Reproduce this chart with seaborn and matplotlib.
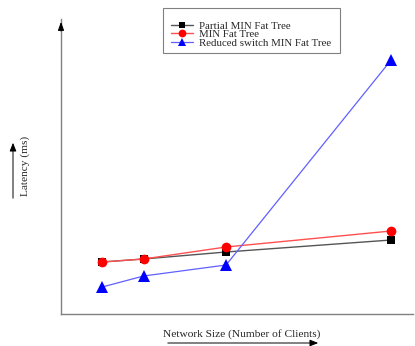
import matplotlib
matplotlib.use("Agg")
import matplotlib.pyplot as plt
from matplotlib.patches import FancyArrowPatch, Rectangle
import seaborn as sns
import pandas as pd

# Network sizes (relative number of clients) and latency per topology
clients = [1, 2, 4, 8]
partial_min = [5.2, 5.5, 6.2, 7.4]
min_fat = [5.2, 5.5, 6.7, 8.3]
reduced_min = [2.7, 3.8, 4.9, 25.4]

series_names = ["Partial MIN Fat Tree", "MIN Fat Tree", "Reduced switch MIN Fat Tree"]
series_values = [partial_min, min_fat, reduced_min]

sns.set_style("white")
plt.rcParams["font.family"] = ["Liberation Serif", "DejaVu Serif"]

W, H = 415, 346
fig = plt.figure(figsize=(W / 100, H / 100), dpi=100)
ax = fig.add_axes([61 / W, (H - 314) / H, (413 - 61) / W, (314 - 19) / H])

styles = [
    dict(line="#555555", mk="black", marker="s", ms=6, lw=1.0),
    dict(line="#ff5050", mk="red", marker="o", ms=7, lw=1.0),
    dict(line="#6060ff", mk="blue", marker="^", ms=8, lw=0.9),
]

for name, vals, st in zip(series_names, series_values, styles):
    df = pd.DataFrame({"clients": clients, "latency": vals})
    sns.lineplot(data=df, x="clients", y="latency", ax=ax, color=st["line"],
                 lw=st["lw"], marker=st["marker"], markersize=st["ms"],
                 markerfacecolor=st["mk"], markeredgecolor=st["mk"],
                 markeredgewidth=0, label=name, zorder=3)

ax.set_xlim(0, 8.53)
ax.set_ylim(0, 29.5)
ax.set_xticks([])
ax.set_yticks([])
ax.set_xlabel("")
ax.set_ylabel("")
for s in ["top", "right"]:
    ax.spines[s].set_visible(False)
for s in ["left", "bottom"]:
    ax.spines[s].set_color("#808080")
    ax.spines[s].set_linewidth(1.0)

# arrowhead on top of the latency axis
ax.annotate("", xy=(0, 1.0), xycoords="axes fraction", xytext=(0, 0.95),
            arrowprops=dict(arrowstyle="-|>,head_width=0.18,head_length=0.5",
                            color="black", lw=0.8))

# legend: compact rows inside a separate frame
leg = ax.legend(loc="upper left", bbox_to_anchor=(171 / W, 1 - 21 / H),
                bbox_transform=fig.transFigure, frameon=False, fontsize=7.8,
                handlelength=2.0, labelspacing=-0.1, handletextpad=0.6,
                borderpad=0, borderaxespad=0, markerscale=0.8)
fig.patches.append(Rectangle((163 / W, 1 - 53 / H), (340 - 163) / W, (53 - 8) / H,
                             transform=fig.transFigure, fill=False,
                             edgecolor="#808080", lw=0.8))

# axis titles with direction arrows
fig.text(242 / W, 1 - 334 / H, "Network Size (Number of Clients)", ha="center", va="center",
         fontsize=8.2)
fig.text(25 / W, 1 - 166 / H, "Latency (ms)", ha="center", va="center", rotation=90,
         fontsize=8.2)
fig.patches.append(FancyArrowPatch(
    (165 / W, 1 - 343 / H), (321 / W, 1 - 343 / H), transform=fig.transFigure,
    arrowstyle="-|>,head_width=2,head_length=5", color="black", lw=0.7))
fig.patches.append(FancyArrowPatch(
    (13 / W, 1 - 201 / H), (13 / W, 1 - 140 / H), transform=fig.transFigure,
    arrowstyle="-|>,head_width=2,head_length=5", color="black", lw=0.7))

fig.savefig("out.png", dpi=100)
